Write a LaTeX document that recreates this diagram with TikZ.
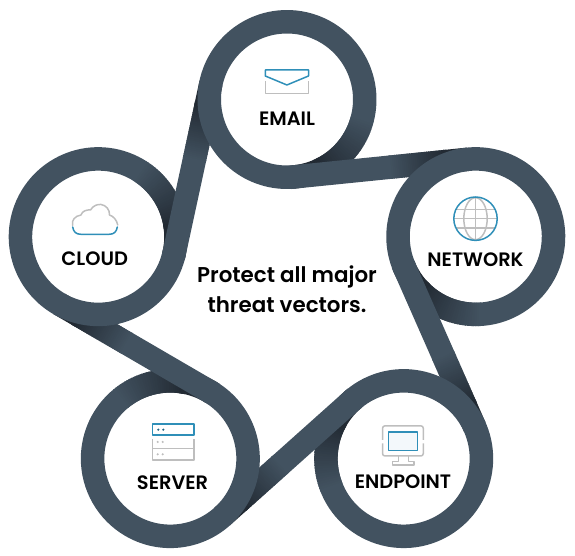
\documentclass[tikz,border=0pt]{standalone}
\usepackage{fontspec}
\setmainfont{Poppins}[UprightFont={* SemiBold}]
\definecolor{belt}{HTML}{425260}
\definecolor{beltdark}{HTML}{222A33}
\definecolor{iconblue}{HTML}{2F8FB8}
\definecolor{icongray}{HTML}{BEBEBE}
\tikzset{
  x=1pt,y=1pt,
  beltline/.style={line width=23.5pt,line cap=butt},
  blueline/.style={draw=iconblue,line width=1.5pt,line join=round},
  grayline/.style={draw=icongray,line width=1.5pt,line join=round},
  tag/.style={anchor=base,font=\fontsize{19.4}{20}\selectfont,text=black,inner sep=0pt},
  headline/.style={anchor=base,font=\fontsize{21.4}{24}\selectfont,text=black,inner sep=0pt},
}
\newcommand{\px}[2]{(#1,556-#2)}
\begin{document}
\begin{tikzpicture}
\useasboundingbox (0,0) rectangle (575,556);
\def\rr{77.75}
\def\tilt{5.79}
\def\blen{174}
% layer 1: ring tails, fading dark as they pass under their own band
\foreach \i in {0,...,4}{
  \begin{scope}[shift={(287,258)},rotate=-72*\i,shift={(0,198.5)}]
    \foreach \k in {0,...,29}{
      \pgfmathsetmacro{\pct}{100-\k*100/29}
      \pgfmathsetmacro{\aa}{-14-\k*1.7}
      \pgfmathsetmacro{\ab}{\aa-3}
      \draw[beltline,draw=belt!\pct!beltdark] (\aa:\rr) arc[start angle=\aa,end angle=\ab,radius=\rr];
    }
    \draw[beltline,draw=beltdark] (-62:\rr) arc[start angle=-62,end angle=-86,radius=\rr];
  \end{scope}
}
% layer 2: straight bands, darkening towards the next ring
\foreach \i in {0,...,4}{
  \begin{scope}[shift={(287,258)},rotate=-72*\i,shift={(0,198.5)},rotate=\tilt]
    \draw[beltline,draw=belt] (-5,-\rr) -- (97,-\rr);
    \foreach \k in {0,...,29}{
      \pgfmathsetmacro{\pct}{100-\k*100/29}
      \pgfmathsetmacro{\sa}{95+\k*1.9}
      \pgfmathsetmacro{\sb}{\sa+3}
      \draw[beltline,draw=belt!\pct!beltdark] (\sa,-\rr) -- (\sb,-\rr);
    }
    \draw[beltline,draw=beltdark] (149,-\rr) -- (\blen,-\rr);
  \end{scope}
}
% layer 3: the ring arcs themselves
\foreach \i in {0,...,4}{
  \begin{scope}[shift={(287,258)},rotate=-72*\i,shift={(0,198.5)}]
    \draw[beltline,draw=belt] (-84.21:\rr) arc[start angle=-84.21,end angle=-375,radius=\rr];
  \end{scope}
}
% email icon
\draw[blueline] \px{265.3}{70} -- \px{308.5}{70} -- \px{308.5}{76} -- \px{286.9}{85} -- \px{265.3}{76} -- cycle;
\draw[grayline] \px{265.5}{81.5} -- \px{265.5}{93.7} -- \px{308.5}{93.7} -- \px{308.5}{81.5};
% network icon
\draw[grayline] \px{475.5}{197.5} -- \px{475.5}{240};
\draw[grayline] \px{456}{209.3} -- \px{495}{209.3};
\draw[grayline] \px{454}{218.7} -- \px{497}{218.7};
\draw[grayline] \px{456}{228} -- \px{495}{228};
\draw[grayline] \px{475.5}{218.7} ellipse [x radius=11.7,y radius=21];
\draw[blueline] \px{475.5}{218.7} circle [radius=21.7];
% endpoint icon
\draw[grayline,rounded corners=2.5pt] \px{382.5}{440} -- \px{382.5}{425.8} -- \px{423.3}{425.8} -- \px{423.3}{440};
\draw[grayline,rounded corners=2.5pt] \px{382.5}{443.5} -- \px{382.5}{456} -- \px{423.3}{456} -- \px{423.3}{443.5};
\draw[blueline,fill=iconblue!6] \px{388.5}{431.8} rectangle \px{417.5}{450.6};
\draw[grayline] \px{398.5}{456} -- \px{398.5}{461.5} -- \px{392.5}{461.5} -- \px{392.5}{465} -- \px{414}{465} -- \px{414}{461.5} -- \px{408.5}{461.5} -- \px{408.5}{456};
% server icon
\draw[blueline] \px{152.3}{424} rectangle \px{194}{435};
\fill[iconblue!70!black] \px{158.3}{429.7} circle [radius=1.2] \px{163.3}{429.7} circle [radius=1.2];
\draw[grayline] \px{152.3}{439} -- \px{152.3}{460} -- \px{194}{460} -- \px{194}{439};
\draw[grayline] \px{152.3}{448.3} -- \px{194}{448.3};
\fill[icongray] \px{157.7}{442} circle [radius=1.2] \px{162.7}{442} circle [radius=1.2]
  \px{157.7}{454.3} circle [radius=1.2] \px{162.7}{454.3} circle [radius=1.2];
% cloud icon
\draw[grayline,line cap=round] \px{72.5}{225.5} .. controls \px{71.5}{220} and \px{75}{216} .. \px{81}{215}
  .. controls \px{82}{211} and \px{87}{209.5} .. \px{90.5}{210}
  .. controls \px{93}{205.5} and \px{98}{204} .. \px{101}{204.5}
  .. controls \px{106}{205} and \px{110}{210} .. \px{109.5}{215}
  .. controls \px{113}{216} and \px{117}{220} .. \px{117.7}{225};
\draw[blueline,line cap=round] \px{72.7}{227} .. controls \px{73.5}{232} and \px{76}{234.3} .. \px{81}{234.3}
  -- \px{109}{234.3} .. controls \px{114}{234.3} and \px{116.5}{232} .. \px{117.3}{227};
% labels
\node[tag] (email) at \px{287}{126} {EMAIL};
\node[tag] (network) at \px{475.5}{266.5} {NETWORK};
\node[tag] (endpoint) at \px{403}{488.5} {ENDPOINT};
\node[tag] (server) at \px{172.5}{490} {SERVER};
\node[tag] (cloud) at \px{94.7}{265.7} {CLOUD};
\node[headline] (line1) at \px{287}{283} {Protect all major};
\node[headline] (line2) at \px{287}{313} {threat vectors.};
\end{tikzpicture}
\end{document}
